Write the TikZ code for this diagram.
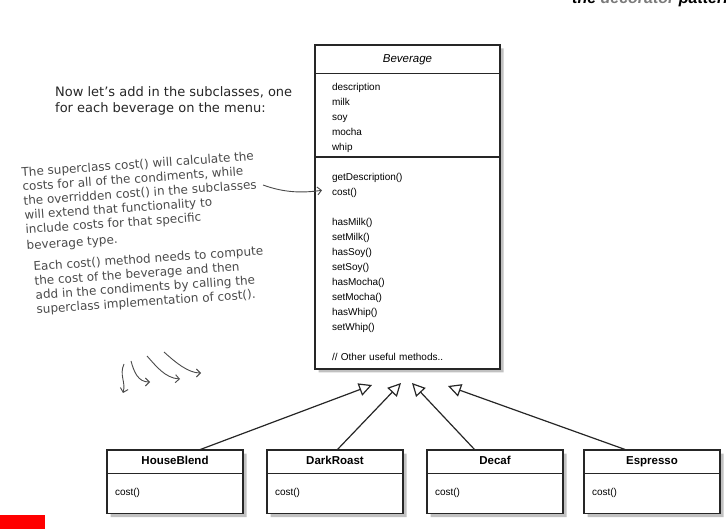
\documentclass[tikz,border=0pt]{standalone}
\usepackage{fontspec}
\setmainfont{Liberation Sans}
\newfontfamily\handfont{DejaVu Sans}
\usetikzlibrary{positioning,shapes.multipart,shadows,arrows.meta}

\definecolor{ink}{HTML}{4A4A4A}
\definecolor{pencil}{HTML}{7A7A7A}

\tikzset{
  classbox/.style={rectangle split, rectangle split parts=2, draw=black!85, fill=white,
    line width=1.3pt, outer sep=0pt, inner xsep=8pt, inner ysep=4.5pt,
    text width=120pt, align=left, font=\fontsize{10}{15}\selectfont,
    drop shadow={shadow xshift=3.5pt, shadow yshift=-3.5pt, fill=black!30, opacity=0.8}},
  inherit/.style={color=black!85, line width=1.2pt, -{Triangle[open,length=13pt,width=13pt]}},
  note/.style={font=\handfont\fontsize{12}{14.3}\selectfont, text=ink, align=left,
    inner sep=0pt, rotate=4},
  scribble/.style={draw=ink, line width=0.9pt, -{Straight Barb[length=4pt,width=8pt]}}
}
\newcommand{\clsname}[1]{\leavevmode\hfill\fontsize{11.5}{13}\selectfont\bfseries\strut#1\hfill\null}
\newcommand{\costop}{\rule[-12.5pt]{0pt}{30pt}cost()}

\begin{document}
\begin{tikzpicture}[x=1pt,y=-1pt]
  \useasboundingbox (0,0) rectangle (726,529);

  % running head, cut by the page edge
  \begin{scope}
    \clip (0,0) rectangle (726,529);
    \node[anchor=base west, inner sep=0pt, font=\fontsize{16}{18}\selectfont\bfseries\itshape]
      (head) at (572,4) {the \textcolor{pencil}{decorator} pattern};
  \end{scope}

  \node[anchor=west, align=left, inner sep=0pt, text=black!85,
        font=\handfont\fontsize{13}{16.5}\selectfont] (intro) at (55,101)
    {Now let’s add in the subclasses, one\\for each beverage on the menu:};

  % superclass
  \node[classbox, rectangle split parts=3, anchor=north west, text width=151pt,
        inner xsep=17pt, inner ysep=4pt, line width=1.6pt] (bev) at (315,45)
    {\leavevmode\hfill\fontsize{11.5}{13}\selectfont\itshape\rule[-6pt]{0pt}{19pt}Beverage\hfill\null
     \nodepart{two}\rule{0pt}{12pt}description\\milk\\soy\\mocha\\whip
     \nodepart{three}\rule{0pt}{18.5pt}getDescription()\\cost()\\[15pt]hasMilk()\\setMilk()\\
       hasSoy()\\setSoy()\\hasMocha()\\setMocha()\\hasWhip()\\setWhip()\\[15pt]%
       // Other useful methods..\rule[-3.5pt]{0pt}{3.5pt}};

  % subclasses
  \node[classbox, anchor=north west] (hb) at (107,450) {\clsname{HouseBlend}\nodepart{two}\costop};
  \node[classbox, right=24pt of hb.north east, anchor=north west] (dr) {\clsname{DarkRoast}\nodepart{two}\costop};
  \node[classbox, right=24pt of dr.north east, anchor=north west] (dc) {\clsname{Decaf}\nodepart{two}\costop};
  \node[classbox, right=21pt of dc.north east, anchor=north west] (es) {\clsname{Espresso}\nodepart{two}\costop};

  \coordinate (hbtip) at (372,385);
  \coordinate (drtip) at (401,383);
  \coordinate (dctip) at (412,383);
  \coordinate (estip) at (448,386);
  \path[inherit]
    ([xshift=24pt]hb.north) edge (hbtip)
    ([xshift=2pt]dr.north) edge (drtip)
    ([xshift=-20pt]dc.north) edge (dctip)
    ([xshift=-25.5pt]es.north) edge (estip);

  % handwritten notes
  \node[note, anchor=west] (superNote) at (24,210)
    {The superclass cost() will calculate the\\costs for all of the condiments, while\\
     the overridden cost() in the subclasses\\will extend that functionality to\\
     include costs for that specific\\[2pt]beverage type.};
  \node[note, anchor=west] (eachNote) at (35,289)
    {Each cost() method needs to compute\\the cost of the beverage and then\\
     add in the condiments by calling the\\superclass implementation of cost().};

  \coordinate (notetail) at (263,185);
  \coordinate (costin) at ([shift={(7,33)}]bev.two split west);
  \draw[scribble] (notetail) .. controls (285,193) and (303,193) .. (costin);

  \draw[scribble] (124,364) .. controls (119,375) and (126,382) .. (123,393);
  \draw[scribble] (131,361) .. controls (134,372) and (138,382) .. (150,382);
  \draw[scribble] (147,356) .. controls (156,366) and (165,378) .. (180,379);
  \draw[scribble] (164,352) .. controls (175,362) and (188,373) .. (201,373);

  \fill[red] (0,515) rectangle (45,529);
\end{tikzpicture}
\end{document}
